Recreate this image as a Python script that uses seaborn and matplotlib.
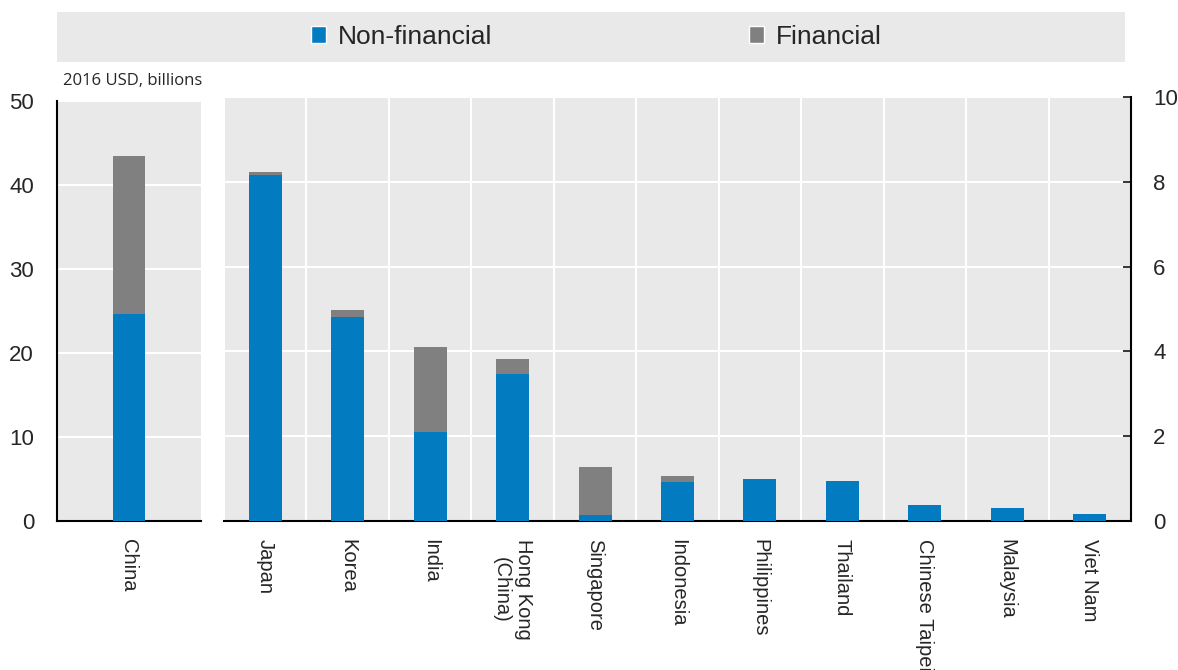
import numpy as np
import pandas as pd
import seaborn as sns
import matplotlib.pyplot as plt
from matplotlib import font_manager
from matplotlib.patches import Patch

# data (2016 USD, billions)
big_country = ["China"]
big_nonfin = [24.6]
big_fin = [18.8]

countries = ["Japan", "Korea", "India", "Hong Kong\n(China)", "Singapore", "Indonesia",
             "Philippines", "Thailand", "Chinese Taipei", "Malaysia", "Viet Nam"]
nonfin = [8.16, 4.81, 2.10, 3.46, 0.14, 0.92, 1.00, 0.94, 0.38, 0.31, 0.17]
fin = [0.08, 0.17, 2.01, 0.35, 1.14, 0.14, 0, 0, 0, 0, 0]

left_ticks = [0, 10, 20, 30, 40, 50]
right_ticks = [0, 2, 4, 6, 8, 10]

BLUE = "#037bc1"
GREY = "#808080"
BG = "#e9e9e9"

sns.set_style("white")
names = {f.name for f in font_manager.fontManager.ttflist}
narrow = "Liberation Sans Narrow" if "Liberation Sans Narrow" in names else "Liberation Sans"
plt.rcParams["font.family"] = [narrow, "DejaVu Sans"]

W, H = 1178, 670
fig = plt.figure(figsize=(W / 100, H / 100), dpi=100)


def frac(x0, y0, x1, y1):
    return [x0 / W, 1 - y1 / H, (x1 - x0) / W, (y1 - y0) / H]


def stacked(ax, cats, nf, f, width):
    df = pd.DataFrame({"cat": cats, "nonfin": nf, "fin": f})
    df["total"] = df["nonfin"] + df["fin"]
    sns.barplot(data=df, x="cat", y="total", color=GREY, width=width,
                saturation=1, linewidth=0, ax=ax, zorder=3)
    sns.barplot(data=df, x="cat", y="nonfin", color=BLUE, width=width,
                saturation=1, linewidth=0, ax=ax, zorder=4)
    ax.set_xlabel("")
    ax.set_ylabel("")


def style(ax):
    ax.set_facecolor(BG)
    for s in ax.spines.values():
        s.set_visible(False)
    ax.spines["bottom"].set_visible(True)
    ax.spines["bottom"].set_color("black")
    ax.spines["bottom"].set_linewidth(1.5)
    ax.grid(axis="y", color="white", lw=1.5, zorder=1)
    ax.tick_params(axis="x", which="major", length=0, pad=13, labelsize=14.5,
                   labelrotation=-90)
    ax.tick_params(axis="x", which="minor", direction="in", length=6, width=1.3)
    ax.tick_params(axis="y", direction="in", length=6, width=1.3, labelsize=16)
    for lab in ax.get_xticklabels():
        lab.set_va("top")
        lab.set_ha("center")


# left panel: China
ax1 = fig.add_axes(frac(57, 101, 201, 521))
stacked(ax1, big_country, big_nonfin, big_fin, 0.4)
style(ax1)
ax1.set_xlim(-0.88, 0.88)
ax1.set_xticks([-0.88, 0.88], minor=True)
ax1.set_ylim(0, 50)
ax1.set_yticks(left_ticks)
ax1.spines["left"].set_visible(True)
ax1.spines["left"].set_color("black")
ax1.spines["left"].set_linewidth(1.5)
ax1.tick_params(axis="y", pad=16.5)

# right panel: the rest
ax2 = fig.add_axes(frac(224, 97, 1131, 521))
stacked(ax2, countries, nonfin, fin, 0.4)
style(ax2)
n = len(countries)
ax2.set_xlim(-0.5, n - 0.5)
ax2.set_xticks(np.arange(-0.5, n), minor=True)
ax2.grid(axis="x", which="minor", color="white", lw=1.5, zorder=1)
ax2.set_ylim(0, 10)
ax2.set_yticks(right_ticks)
ax2.yaxis.tick_right()
ax2.spines["right"].set_visible(True)
ax2.spines["right"].set_color("black")
ax2.spines["right"].set_linewidth(1.5)
ax2.tick_params(axis="y", pad=16, labelleft=False, labelright=True)
for lab in ax2.get_yticklabels():
    lab.set_ha("left")

# legend box
lax = fig.add_axes(frac(57, 12, 1125, 62))
lax.set_facecolor(BG)
lax.set_xticks([])
lax.set_yticks([])
for s in lax.spines.values():
    s.set_visible(False)
handles = [Patch(facecolor=BLUE, label="Non-financial"),
           Patch(facecolor=GREY, label="Financial")]
lax.legend(handles=handles, loc="center", ncol=2, frameon=False,
           prop={"family": "Liberation Sans", "size": 19},
           handlelength=0.6, handleheight=0.6, handletextpad=0.45,
           columnspacing=9.7, bbox_to_anchor=(0.505, 0.5))

fig.text(63 / W, 1 - 81 / H, "2016 USD, billions", fontsize=12,
         family="Open Sans", va="center", ha="left")

fig.savefig("out.png", dpi=100)
